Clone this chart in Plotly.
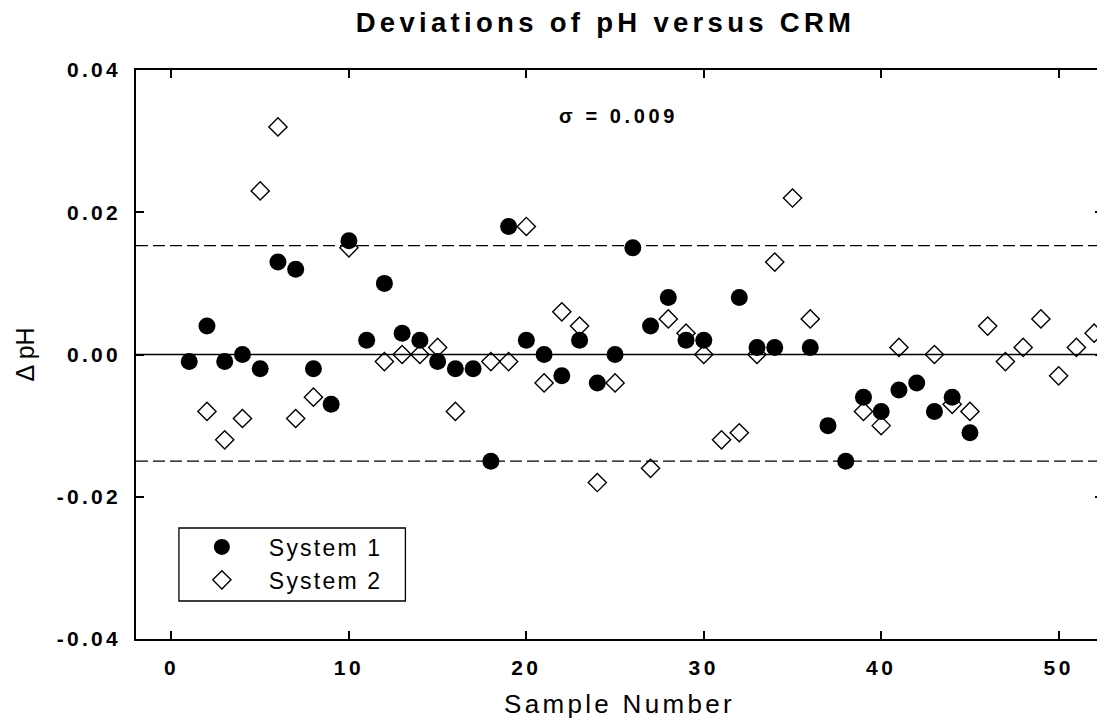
import plotly.graph_objects as go

# ---- data ----
s1_x = list(range(1, 31)) + [32, 33, 34] + list(range(36, 46))
s1_y = [-0.001, 0.004, -0.001, 0.000, -0.002, 0.013, 0.012, -0.002, -0.007, 0.016,
        0.002, 0.010, 0.003, 0.002, -0.001, -0.002, -0.002, -0.015, 0.018, 0.002,
        0.000, -0.003, 0.002, -0.004, 0.000, 0.015, 0.004, 0.008, 0.002, 0.002,
        0.008, 0.001, 0.001,
        0.001, -0.010, -0.015, -0.006, -0.008, -0.005, -0.004, -0.008, -0.006, -0.011]

s2_x = [2, 3, 4, 5, 6, 7, 8, 10, 12, 13, 14, 15, 16, 18, 19, 20, 21, 22, 23, 24, 25,
        27, 28, 29, 30, 31, 32, 33, 34, 35, 36, 39, 40, 41, 43, 44, 45, 46, 47, 48,
        49, 50, 51, 52]
s2_y = [-0.008, -0.012, -0.009, 0.023, 0.032, -0.009, -0.006, 0.015, -0.001, 0.000,
        0.000, 0.001, -0.008, -0.001, -0.001, 0.018, -0.004, 0.006, 0.004, -0.018,
        -0.004, -0.016, 0.005, 0.003, 0.000, -0.012, -0.011, 0.000, 0.013, 0.022,
        0.005, -0.008, -0.010, 0.001, 0.000, -0.007, -0.008, 0.004, -0.001, 0.001,
        0.005, -0.003, 0.001, 0.003]

limit_lines = [0.0153, -0.0150]
center_line = [0.0]

x_tickvals = [0, 10, 20, 30, 40, 50]
x_ticktext = ["0", "10", "20", "30", "40", "50"]
y_tickvals = [-0.04, -0.02, 0.0, 0.02, 0.04]
y_ticktext = ["-0.04", "-0.02", "0.00", "0.02", "0.04"]

title_text = "Deviations of pH versus CRM"
sigma_text = "σ = 0.009"
series_names = ["System 1", "System 2"]
x_title = "Sample Number"
y_title = "Δ pH"

FONT = "Liberation Sans, Arial, sans-serif"


def sp(t, px):
    return f'<span style="letter-spacing:{px}px">{t}</span>'


fig = go.Figure()
fig.add_trace(go.Scatter(
    x=s1_x, y=s1_y, mode="markers", name=sp(series_names[0], 2.2),
    marker=dict(symbol="circle", size=17, color="black", line=dict(width=0)),
))
fig.add_trace(go.Scatter(
    x=s2_x, y=s2_y, mode="markers", name=sp(series_names[1], 2.2),
    marker=dict(symbol="diamond-open", size=14, color="black", line=dict(width=1.4, color="black")),
))

for v in limit_lines:
    fig.add_shape(type="line", xref="paper", x0=0, x1=1, yref="y", y0=v, y1=v,
                  line=dict(color="black", width=1.3, dash="12px,5px"), layer="below")
for v in center_line:
    fig.add_shape(type="line", xref="paper", x0=0, x1=1, yref="y", y0=v, y1=v,
                  line=dict(color="black", width=1.5), layer="below")

# legend frame
fig.add_shape(type="rect", xref="paper", yref="paper",
              x0=0.0444, x1=0.2786, y0=0.0668, y1=0.1951,
              line=dict(color="black", width=1.3), fillcolor="rgba(0,0,0,0)", layer="above")

fig.add_annotation(x=25.2, y=0.0335, xref="x", yref="y", text="<b>" + sp(sigma_text, 3.6) + "</b>",
                   showarrow=False, font=dict(family=FONT, size=20, color="black"),
                   xanchor="center", yanchor="middle")

fig.update_layout(
    width=1097, height=715,
    margin=dict(l=128, r=0, t=62, b=84),
    paper_bgcolor="white", plot_bgcolor="white",
    font=dict(family=FONT, color="black"),
    title=dict(text="<b>" + sp(title_text, 4.3) + "</b>", x=597.5 / 1097, xref="container",
               y=1 - 14.3 / 715, yref="container", yanchor="middle", xanchor="center",
               font=dict(family=FONT, size=27.5, color="black")),
    showlegend=True,
    legend=dict(x=0.0402, y=0.1995, xanchor="left", yanchor="top",
                borderwidth=0, bgcolor="rgba(0,0,0,0)",
                font=dict(family=FONT, size=23, color="black"),
                itemwidth=84, tracegroupgap=0),
)

fig.update_xaxes(
    range=[-2, 52.5], showgrid=False, zeroline=False,
    showline=True, linecolor="black", linewidth=1.5, mirror="ticks",
    ticks="inside", ticklen=8, tickwidth=1.5, tickcolor="black",
    tickvals=x_tickvals, ticktext=["<b>" + sp(t, 3.5) + "</b>" for t in x_ticktext],
    tickfont=dict(family=FONT, size=21, color="black"), ticklabelstandoff=9,
    title=dict(text=sp(x_title, 3.3), font=dict(family=FONT, size=26, color="black"), standoff=17),
)
fig.update_yaxes(
    range=[-0.04, 0.04], showgrid=False, zeroline=False,
    showline=True, linecolor="black", linewidth=1.5, mirror="ticks",
    ticks="inside", ticklen=8, tickwidth=1.5, tickcolor="black",
    tickvals=y_tickvals, ticktext=["<b>" + sp(t, 3.3) + "</b>" for t in y_ticktext],
    tickfont=dict(family=FONT, size=21, color="black"), ticklabelstandoff=9,
    title=dict(text=y_title, font=dict(family=FONT, size=25, color="black"), standoff=15),
)

fig.write_html("out.html")
